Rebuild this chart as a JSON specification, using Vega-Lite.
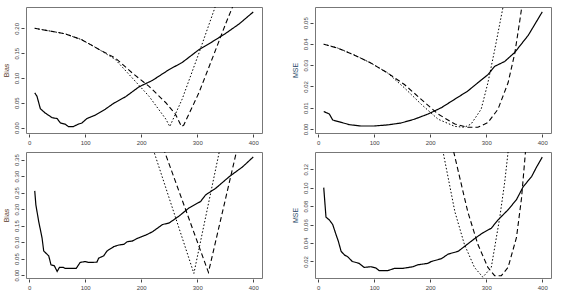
{
  "$schema": "https://vega.github.io/schema/vega-lite/v6.json",
  "padding": {"left": 1, "top": 6, "right": 0, "bottom": 0},
  "background": "white",
  "config": {
    "font": "Liberation Sans",
    "view": {"stroke": "#777", "strokeWidth": 1},
    "axis": {
      "grid": false, "domain": false, "tickColor": "#444", "tickSize": 3,
      "labelFont": "Liberation Sans", "labelFontSize": 6, "labelColor": "#444",
      "titleFont": "Liberation Sans", "titleFontSize": 7, "titleFontWeight": "normal"
    },
    "axisX": {"labelPadding": 2, "offset": 1},
    "axisY": {"labelAngle": 270, "labelPadding": 2, "offset": 2, "titlePadding": 4, "tickSize": 3}
  },
  "datasets": {
    "tl": [
      {"s":"solid","x":10,"y":0.070},{"s":"solid","x":14,"y":0.063},{"s":"solid","x":20,"y":0.038},{"s":"solid","x":29,"y":0.029},{"s":"solid","x":41,"y":0.020},{"s":"solid","x":50,"y":0.018},{"s":"solid","x":56,"y":0.009},{"s":"solid","x":64,"y":0.007},{"s":"solid","x":70,"y":0.002},{"s":"solid","x":79,"y":0.002},{"s":"solid","x":88,"y":0.007},{"s":"solid","x":94,"y":0.009},{"s":"solid","x":103,"y":0.018},{"s":"solid","x":118,"y":0.025},{"s":"solid","x":136,"y":0.037},{"s":"solid","x":151,"y":0.049},{"s":"solid","x":172,"y":0.062},{"s":"solid","x":196,"y":0.082},{"s":"solid","x":220,"y":0.095},{"s":"solid","x":250,"y":0.117},{"s":"solid","x":273,"y":0.131},{"s":"solid","x":303,"y":0.157},{"s":"solid","x":327,"y":0.173},{"s":"solid","x":351,"y":0.190},{"s":"solid","x":375,"y":0.209},{"s":"solid","x":400,"y":0.233},
      {"s":"dashed","x":10,"y":0.200},{"s":"dashed","x":35,"y":0.195},{"s":"dashed","x":64,"y":0.189},{"s":"dashed","x":94,"y":0.177},{"s":"dashed","x":124,"y":0.158},{"s":"dashed","x":154,"y":0.140},{"s":"dashed","x":184,"y":0.110},{"s":"dashed","x":214,"y":0.083},{"s":"dashed","x":244,"y":0.050},{"s":"dashed","x":261,"y":0.027},{"s":"dashed","x":272,"y":0.002},{"s":"dashed","x":276,"y":0.005},{"s":"dashed","x":303,"y":0.070},{"s":"dashed","x":333,"y":0.157},{"s":"dashed","x":351,"y":0.210},{"s":"dashed","x":363,"y":0.243},{"s":"dashed","x":375,"y":0.275},
      {"s":"dotted","x":10,"y":0.200},{"s":"dotted","x":35,"y":0.195},{"s":"dotted","x":64,"y":0.189},{"s":"dotted","x":94,"y":0.177},{"s":"dotted","x":124,"y":0.158},{"s":"dotted","x":154,"y":0.137},{"s":"dotted","x":184,"y":0.100},{"s":"dotted","x":214,"y":0.063},{"s":"dotted","x":244,"y":0.017},{"s":"dotted","x":251,"y":0.002},{"s":"dotted","x":273,"y":0.057},{"s":"dotted","x":303,"y":0.150},{"s":"dotted","x":332,"y":0.243},{"s":"dotted","x":345,"y":0.280}
    ],
    "tr": [
      {"s":"solid","x":10,"y":0.0082},{"s":"solid","x":20,"y":0.0070},{"s":"solid","x":26,"y":0.0042},{"s":"solid","x":41,"y":0.0031},{"s":"solid","x":56,"y":0.0020},{"s":"solid","x":76,"y":0.0014},{"s":"solid","x":100,"y":0.0014},{"s":"solid","x":124,"y":0.0019},{"s":"solid","x":148,"y":0.0028},{"s":"solid","x":172,"y":0.0046},{"s":"solid","x":196,"y":0.0070},{"s":"solid","x":220,"y":0.0100},{"s":"solid","x":244,"y":0.0140},{"s":"solid","x":267,"y":0.0178},{"s":"solid","x":285,"y":0.0217},{"s":"solid","x":303,"y":0.0255},{"s":"solid","x":315,"y":0.0294},{"s":"solid","x":333,"y":0.0317},{"s":"solid","x":351,"y":0.0360},{"s":"solid","x":375,"y":0.0440},{"s":"solid","x":400,"y":0.0550},
      {"s":"dashed","x":10,"y":0.0398},{"s":"dashed","x":35,"y":0.0380},{"s":"dashed","x":64,"y":0.0348},{"s":"dashed","x":94,"y":0.0310},{"s":"dashed","x":124,"y":0.0263},{"s":"dashed","x":154,"y":0.0209},{"s":"dashed","x":184,"y":0.0139},{"s":"dashed","x":214,"y":0.0070},{"s":"dashed","x":244,"y":0.0023},{"s":"dashed","x":267,"y":0.0008},{"s":"dashed","x":285,"y":0.0008},{"s":"dashed","x":303,"y":0.0030},{"s":"dashed","x":321,"y":0.0093},{"s":"dashed","x":339,"y":0.0217},{"s":"dashed","x":351,"y":0.0356},{"s":"dashed","x":360,"y":0.0510},{"s":"dashed","x":366,"y":0.0620},
      {"s":"dotted","x":10,"y":0.0398},{"s":"dotted","x":35,"y":0.0380},{"s":"dotted","x":64,"y":0.0348},{"s":"dotted","x":94,"y":0.0310},{"s":"dotted","x":124,"y":0.0263},{"s":"dotted","x":154,"y":0.0193},{"s":"dotted","x":184,"y":0.0116},{"s":"dotted","x":214,"y":0.0046},{"s":"dotted","x":244,"y":0.0012},{"s":"dotted","x":261,"y":0.0008},{"s":"dotted","x":273,"y":0.0023},{"s":"dotted","x":291,"y":0.0093},{"s":"dotted","x":303,"y":0.0217},{"s":"dotted","x":315,"y":0.0370},{"s":"dotted","x":330,"y":0.0573},{"s":"dotted","x":335,"y":0.0650}
    ],
    "bl": [
      {"s":"solid","x":10,"y":0.255},{"s":"solid","x":12,"y":0.213},{"s":"solid","x":17,"y":0.163},{"s":"solid","x":23,"y":0.113},{"s":"solid","x":26,"y":0.073},{"s":"solid","x":35,"y":0.058},{"s":"solid","x":39,"y":0.031},{"s":"solid","x":45,"y":0.028},{"s":"solid","x":50,"y":0.011},{"s":"solid","x":54,"y":0.023},{"s":"solid","x":61,"y":0.023},{"s":"solid","x":64,"y":0.020},{"s":"solid","x":84,"y":0.020},{"s":"solid","x":91,"y":0.038},{"s":"solid","x":100,"y":0.041},{"s":"solid","x":106,"y":0.038},{"s":"solid","x":121,"y":0.039},{"s":"solid","x":124,"y":0.051},{"s":"solid","x":133,"y":0.058},{"s":"solid","x":139,"y":0.073},{"s":"solid","x":151,"y":0.086},{"s":"solid","x":160,"y":0.091},{"s":"solid","x":169,"y":0.093},{"s":"solid","x":175,"y":0.101},{"s":"solid","x":184,"y":0.103},{"s":"solid","x":193,"y":0.111},{"s":"solid","x":208,"y":0.121},{"s":"solid","x":220,"y":0.131},{"s":"solid","x":238,"y":0.153},{"s":"solid","x":250,"y":0.158},{"s":"solid","x":267,"y":0.178},{"s":"solid","x":285,"y":0.203},{"s":"solid","x":306,"y":0.223},{"s":"solid","x":315,"y":0.243},{"s":"solid","x":333,"y":0.263},{"s":"solid","x":357,"y":0.298},{"s":"solid","x":381,"y":0.328},{"s":"solid","x":400,"y":0.358},
      {"s":"dotted","x":210,"y":0.440},{"s":"dotted","x":294,"y":0.005},{"s":"dotted","x":350,"y":0.460},
      {"s":"dashed","x":220,"y":0.476},{"s":"dashed","x":320,"y":0.008},{"s":"dashed","x":390,"y":0.520}
    ],
    "br": [
      {"s":"solid","x":10,"y":0.100},{"s":"solid","x":14,"y":0.068},{"s":"solid","x":20,"y":0.065},{"s":"solid","x":26,"y":0.060},{"s":"solid","x":32,"y":0.049},{"s":"solid","x":36,"y":0.042},{"s":"solid","x":41,"y":0.031},{"s":"solid","x":47,"y":0.027},{"s":"solid","x":53,"y":0.025},{"s":"solid","x":61,"y":0.020},{"s":"solid","x":73,"y":0.018},{"s":"solid","x":82,"y":0.0136},{"s":"solid","x":94,"y":0.0143},{"s":"solid","x":103,"y":0.013},{"s":"solid","x":109,"y":0.010},{"s":"solid","x":124,"y":0.010},{"s":"solid","x":136,"y":0.0125},{"s":"solid","x":151,"y":0.0125},{"s":"solid","x":169,"y":0.0143},{"s":"solid","x":178,"y":0.0164},{"s":"solid","x":196,"y":0.018},{"s":"solid","x":202,"y":0.020},{"s":"solid","x":220,"y":0.023},{"s":"solid","x":232,"y":0.028},{"s":"solid","x":250,"y":0.031},{"s":"solid","x":267,"y":0.039},{"s":"solid","x":282,"y":0.046},{"s":"solid","x":294,"y":0.051},{"s":"solid","x":309,"y":0.056},{"s":"solid","x":321,"y":0.065},{"s":"solid","x":339,"y":0.076},{"s":"solid","x":354,"y":0.087},{"s":"solid","x":366,"y":0.101},{"s":"solid","x":381,"y":0.112},{"s":"solid","x":390,"y":0.1225},{"s":"solid","x":400,"y":0.133},
      {"s":"dotted","x":215,"y":0.170},{"s":"dotted","x":223,"y":0.1386},{"s":"dotted","x":244,"y":0.074},{"s":"dotted","x":261,"y":0.0386},{"s":"dotted","x":279,"y":0.0136},{"s":"dotted","x":294,"y":0.003},{"s":"dotted","x":309,"y":0.0136},{"s":"dotted","x":324,"y":0.067},{"s":"dotted","x":333,"y":0.106},{"s":"dotted","x":339,"y":0.1386},{"s":"dotted","x":343,"y":0.165},
      {"s":"dashed","x":235,"y":0.165},{"s":"dashed","x":242,"y":0.1386},{"s":"dashed","x":267,"y":0.074},{"s":"dashed","x":285,"y":0.0386},{"s":"dashed","x":303,"y":0.0136},{"s":"dashed","x":315,"y":0.0046},{"s":"dashed","x":327,"y":0.0046},{"s":"dashed","x":339,"y":0.0136},{"s":"dashed","x":354,"y":0.046},{"s":"dashed","x":363,"y":0.0886},{"s":"dashed","x":370,"y":0.1386},{"s":"dashed","x":373,"y":0.160}
    ]
  },
  "spacing": 5,
  "vconcat": [
    {
      "spacing": 27,
      "hconcat": [
        {
          "width": 236, "height": 126,
          "data": {"name": "tl"},
          "mark": {"type": "line", "clip": true, "color": "black"},
          "encoding": {
            "x": {"field": "x", "type": "quantitative", "scale": {"domain": [-5.6, 415.6], "nice": false, "zero": false}, "axis": {"values": [0,100,200,300,400], "title": null}},
            "y": {"field": "y", "type": "quantitative", "scale": {"domain": [-0.011, 0.243], "nice": false, "zero": false}, "axis": {"values": [0,0.05,0.1,0.15,0.2], "format": ".2f", "title": "Bias", "titleColor": "#5a3a2a"}},
            "strokeDash": {"field": "s", "type": "nominal", "scale": {"domain": ["solid","dashed","dotted"], "range": [[1,0],[5,3],[1.5,2]]}, "legend": null},
            "strokeWidth": {"field": "s", "type": "nominal", "scale": {"domain": ["solid","dashed","dotted"], "range": [1.2,1.0,1.0]}, "legend": null}
          }
        },
        {
          "width": 236, "height": 126,
          "data": {"name": "tr"},
          "mark": {"type": "line", "clip": true, "color": "black"},
          "encoding": {
            "x": {"field": "x", "type": "quantitative", "scale": {"domain": [-5.6, 415.6], "nice": false, "zero": false}, "axis": {"values": [0,100,200,300,400], "title": null}},
            "y": {"field": "y", "type": "quantitative", "scale": {"domain": [-0.0019, 0.0573], "nice": false, "zero": false}, "axis": {"values": [0,0.01,0.02,0.03,0.04,0.05], "format": ".2f", "title": "MSE", "titleColor": "#2a4a6a"}},
            "strokeDash": {"field": "s", "type": "nominal", "scale": {"domain": ["solid","dashed","dotted"], "range": [[1,0],[5,3],[1.5,2]]}, "legend": null},
            "strokeWidth": {"field": "s", "type": "nominal", "scale": {"domain": ["solid","dashed","dotted"], "range": [1.2,1.0,1.0]}, "legend": null}
          }
        }
      ],
      "resolve": {"scale": {"x": "independent", "y": "independent"}}
    },
    {
      "spacing": 27,
      "hconcat": [
        {
          "width": 236, "height": 126,
          "data": {"name": "bl"},
          "mark": {"type": "line", "clip": true, "color": "black"},
          "encoding": {
            "x": {"field": "x", "type": "quantitative", "scale": {"domain": [-5.6, 415.6], "nice": false, "zero": false}, "axis": {"values": [0,100,200,300,400], "title": null}},
            "y": {"field": "y", "type": "quantitative", "scale": {"domain": [-0.009, 0.373], "nice": false, "zero": false}, "axis": {"values": [0,0.05,0.1,0.15,0.2,0.25,0.3,0.35], "format": ".2f", "title": "Bias", "titleColor": "#5a3a2a"}},
            "strokeDash": {"field": "s", "type": "nominal", "scale": {"domain": ["solid","dashed","dotted"], "range": [[1,0],[5,3],[1.5,2]]}, "legend": null},
            "strokeWidth": {"field": "s", "type": "nominal", "scale": {"domain": ["solid","dashed","dotted"], "range": [1.2,1.0,1.0]}, "legend": null}
          }
        },
        {
          "width": 236, "height": 126,
          "data": {"name": "br"},
          "mark": {"type": "line", "clip": true, "color": "black"},
          "encoding": {
            "x": {"field": "x", "type": "quantitative", "scale": {"domain": [-5.6, 415.6], "nice": false, "zero": false}, "axis": {"values": [0,100,200,300,400], "title": null}},
            "y": {"field": "y", "type": "quantitative", "scale": {"domain": [0.0021, 0.1386], "nice": false, "zero": false}, "axis": {"values": [0.02,0.04,0.06,0.08,0.1,0.12], "format": ".2f", "title": "MSE", "titleColor": "#2a4a6a"}},
            "strokeDash": {"field": "s", "type": "nominal", "scale": {"domain": ["solid","dashed","dotted"], "range": [[1,0],[5,3],[1.5,2]]}, "legend": null},
            "strokeWidth": {"field": "s", "type": "nominal", "scale": {"domain": ["solid","dashed","dotted"], "range": [1.2,1.0,1.0]}, "legend": null}
          }
        }
      ],
      "resolve": {"scale": {"x": "independent", "y": "independent"}}
    }
  ],
  "resolve": {"scale": {"x": "independent", "y": "independent"}}
}
